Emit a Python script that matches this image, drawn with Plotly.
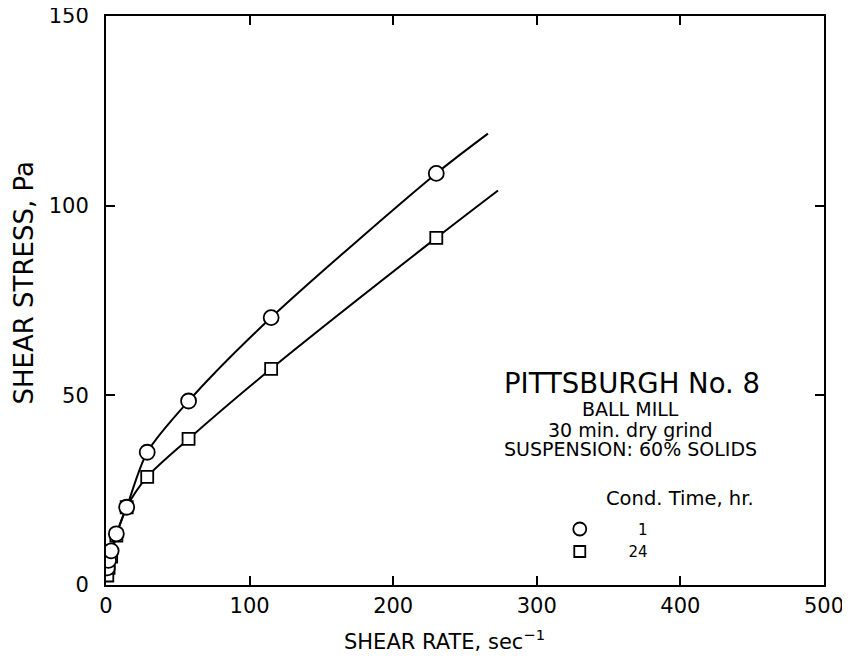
import plotly.graph_objects as go

# Data
shear_rate = [0.9, 1.8, 3.6, 7.2, 14.4, 28.7, 57.5, 115, 230]
stress_1hr = [4.5, 6.5, 9.0, 13.5, 20.5, 35.0, 48.5, 70.5, 108.5]
stress_24hr = [2.5, 4.5, 7.5, 13.0, 20.5, 28.5, 38.5, 57.0, 91.5]

# fitted curves extend slightly beyond the last data point
curve_x_1hr = [0.0] + shear_rate + [266]
curve_y_1hr = [2.0] + stress_1hr + [119]
curve_x_24hr = [0.0] + shear_rate + [273]
curve_y_24hr = [1.0] + stress_24hr + [104]

x_ticks = [0, 100, 200, 300, 400, 500]
y_ticks = [0, 50, 100, 150]
legend_names = ["1", "24"]

FONT = "DejaVu Sans"
NB = "\u00a0"

fig = go.Figure()
fig.add_trace(go.Scatter(x=curve_x_1hr, y=curve_y_1hr, mode="lines",
                         line=dict(color="black", width=2, shape="spline", smoothing=0.8),
                         showlegend=False, hoverinfo="skip"))
fig.add_trace(go.Scatter(x=curve_x_24hr, y=curve_y_24hr, mode="lines",
                         line=dict(color="black", width=2, shape="spline", smoothing=0.8),
                         showlegend=False, hoverinfo="skip"))
fig.add_trace(go.Scatter(x=shear_rate, y=stress_24hr, mode="markers",
                         marker=dict(symbol="square", size=12, color="white",
                                     line=dict(color="black", width=1.8)),
                         showlegend=False))
fig.add_trace(go.Scatter(x=shear_rate, y=stress_1hr, mode="markers",
                         marker=dict(symbol="circle", size=15, color="white",
                                     line=dict(color="black", width=1.8)),
                         showlegend=False))
# legend entries
fig.add_trace(go.Scatter(x=[None], y=[None], mode="markers", name=NB * 8 + legend_names[0],
                         marker=dict(symbol="circle-open", size=13, color="black",
                                     line=dict(width=1.8))))
fig.add_trace(go.Scatter(x=[None], y=[None], mode="markers", name=NB * 6 + legend_names[1],
                         marker=dict(symbol="square-open", size=11, color="black",
                                     line=dict(width=1.8))))

axis_common = dict(showline=True, linecolor="black", linewidth=2, mirror="ticks",
                   ticks="inside", ticklen=9, tickwidth=2, tickcolor="black",
                   showgrid=False, zeroline=False, automargin=False,
                   ticklabeloverflow="allow",
                   tickfont=dict(family=FONT, size=21, color="black"))

fig.update_xaxes(range=[0, 500], tickvals=x_ticks, ticklabelstandoff=1, **axis_common)
fig.update_yaxes(range=[0, 150], tickvals=y_ticks, ticklabelstandoff=11, **axis_common)

annotations = [
    dict(x=0.472, y=-0.097, xref="paper", yref="paper",
         text="SHEAR RATE, sec<sup>\u22121</sup>", showarrow=False,
         font=dict(family=FONT, size=21, color="black"), xanchor="center", yanchor="middle"),
    dict(x=-0.114, y=0.53, xref="paper", yref="paper", text="SHEAR STRESS, Pa",
         showarrow=False, textangle=-90,
         font=dict(family=FONT, size=26, color="black"), xanchor="center", yanchor="middle"),
    dict(x=366, y=53.3, xref="x", yref="y", text="PITTSBURGH No. 8", showarrow=False,
         font=dict(family=FONT, size=27.5, color="black")),
    dict(x=365, y=46.3, xref="x", yref="y", text="BALL MILL", showarrow=False,
         font=dict(family=FONT, size=19, color="black")),
    dict(x=365, y=40.9, xref="x", yref="y", text="30 min. dry grind", showarrow=False,
         font=dict(family=FONT, size=19, color="black")),
    dict(x=365, y=35.9, xref="x", yref="y", text="SUSPENSION: 60% SOLIDS", showarrow=False,
         font=dict(family=FONT, size=19, color="black")),
    dict(x=400, y=22.9, xref="x", yref="y", text="Cond. Time, hr.", showarrow=False,
         font=dict(family=FONT, size=19.5, color="black")),
]

fig.update_layout(
    width=850, height=663,
    margin=dict(l=98, r=34, t=8, b=86),
    paper_bgcolor="white", plot_bgcolor="white",
    font=dict(family=FONT, color="black"),
    annotations=annotations,
    legend=dict(x=0.632, y=0.127, xanchor="left", yanchor="top",
                font=dict(family=FONT, size=15, color="black"),
                bgcolor="rgba(0,0,0,0)", tracegroupgap=0, itemwidth=30),
)

fig.write_html("out.html")
